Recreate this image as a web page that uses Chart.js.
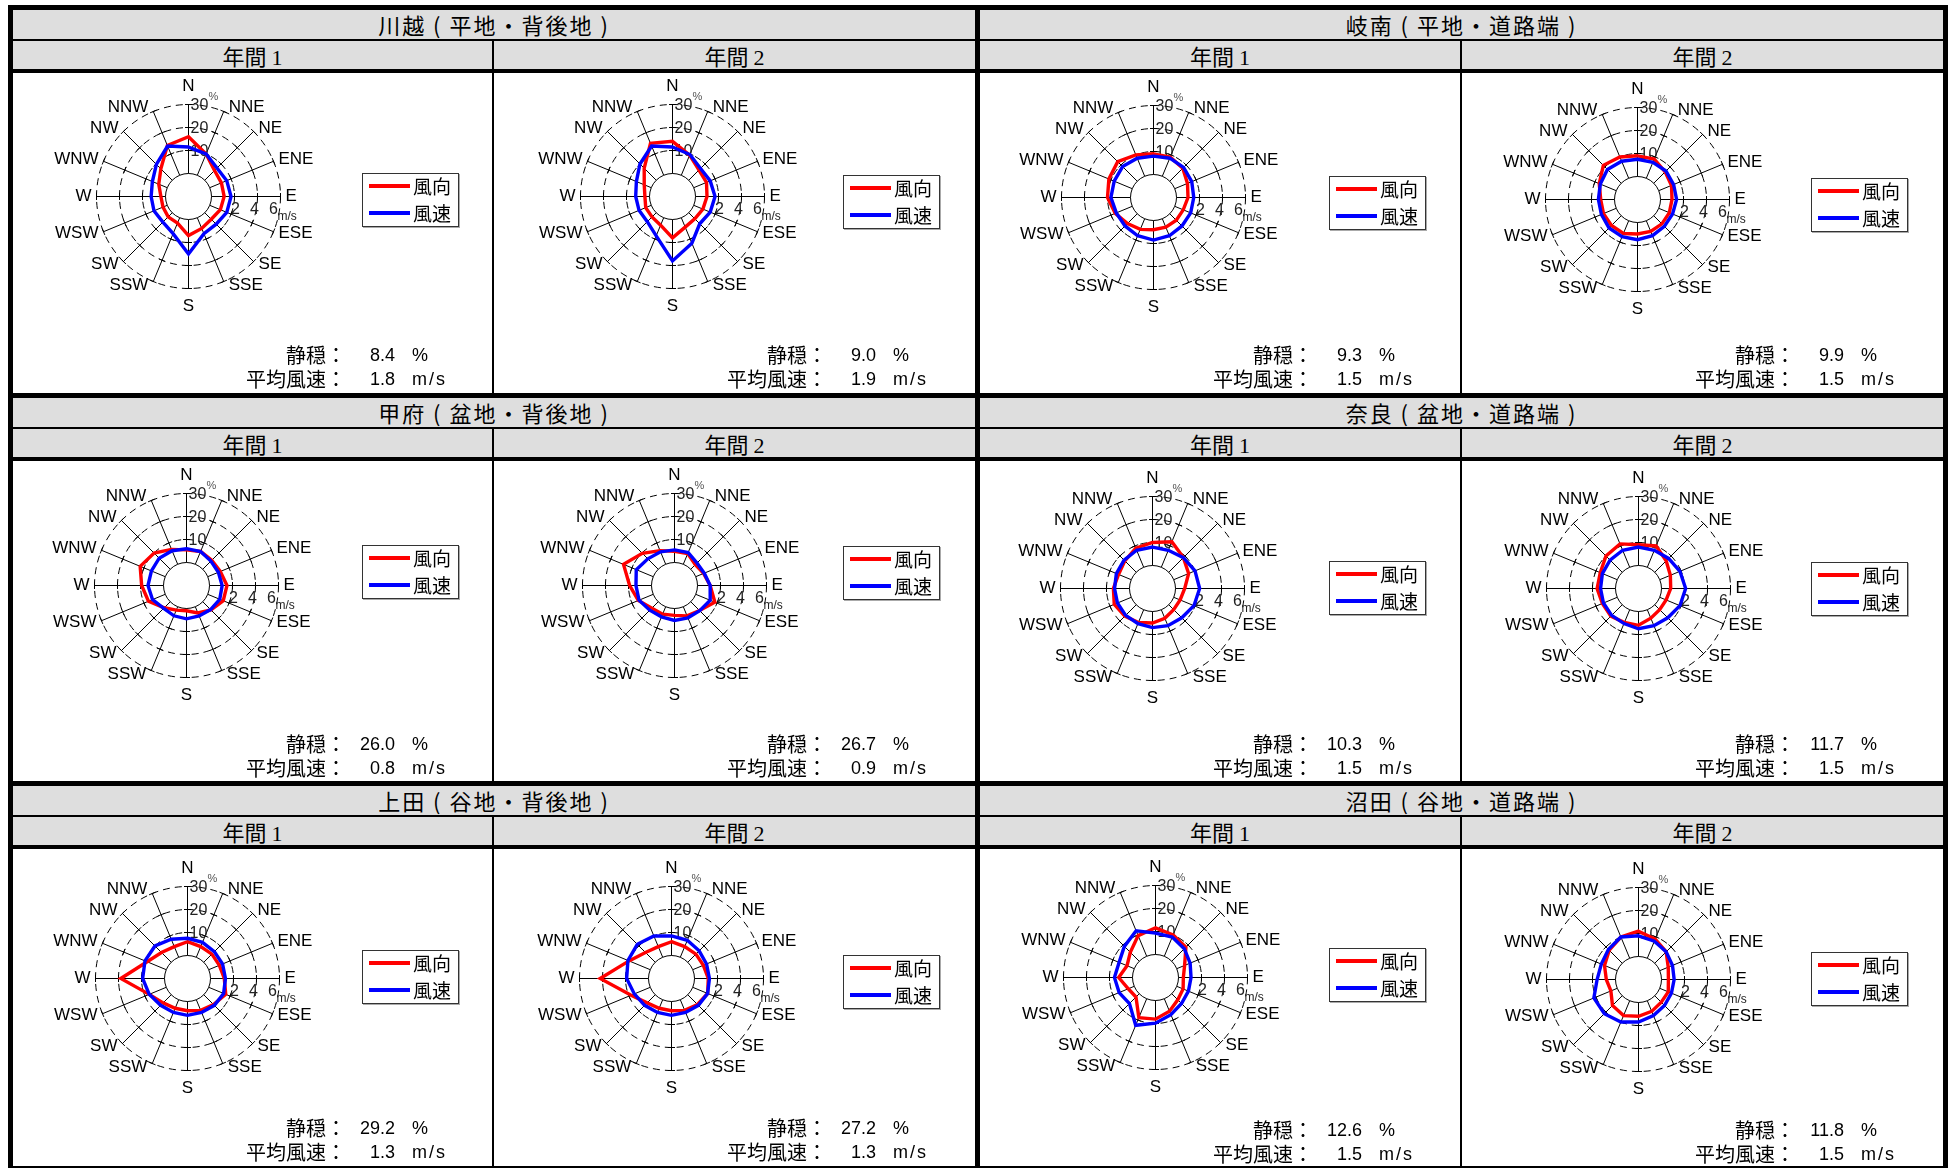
<!DOCTYPE html>
<html lang="ja">
<head>
<meta charset="utf-8">
<script src="https://cdn.jsdelivr.net/npm/chart.js@4.4.1/dist/chart.umd.min.js"></script>
<style>
  body { margin: 0; background: #fff; }
  #sheet { position: relative; width: 1955px; height: 1168px; overflow: hidden; background: #fff;
           font-family: "Noto Sans CJK JP", sans-serif; color: #000; }
  .blk { position: absolute; background: #000; }
  .band { position: absolute; background: #dedede; }
  .title { position: absolute; text-align: center; font-size: 22px; line-height: 29px; letter-spacing: 2px; white-space: nowrap; }
  .sub { position: absolute; text-align: center; font-size: 22px; line-height: 28px; white-space: nowrap; }
  .sub .num { font-family: "Liberation Serif", serif; font-size: 22px; }
  canvas { position: absolute; }
  .legend { position: absolute; width: 95px; height: 52px; border: 1px solid #333; background: #fff;
            box-shadow: 1px 1px 0 #aaa; }
  .legend .ln { position: absolute; left: 6px; width: 41px; height: 4px; }
  .legend .tx { position: absolute; left: 50px; font-size: 19px; line-height: 22px; }
  .stat { position: absolute; font-size: 20px; line-height: 22px; white-space: nowrap; }
  .val { position: absolute; font-family: "Liberation Sans", Arial, sans-serif; font-size: 18px; line-height: 22px; white-space: nowrap; }
</style>
</head>
<body>
<div id="sheet"></div>
<script>
// 16 compass directions, clockwise from north
const directions = ["N", "NNE", "NE", "ENE", "E", "ESE", "SE", "SSE", "S", "SSW", "SW", "WSW", "W", "WNW", "NW", "NNW"];
const sites = ["川越 ( 平地・背後地 )", "岐南 ( 平地・道路端 )", "甲府 ( 盆地・背後地 )",
               "奈良 ( 盆地・道路端 )", "上田 ( 谷地・背後地 )", "沼田 ( 谷地・道路端 )"];
const periods = ["年間", "年間"];
const periodNo = ["1", "2"];
const seriesNames = ["風向", "風速"];
const ringValues = [10, 20, 30];      // % rings
const speedTicks = ["2", "4", "6"];   // m/s on the same rings

// direction frequency (%) and mean wind speed (m/s) per direction
const freqKawagoe1 = [16, 10, 6, 5.5, 5.5, 5, 4, 5, 7, 2.5, 2.5, 2, 2, 4, 7, 14];
const spdKawagoe1  = [2.3, 2.0, 1.5, 1.6, 1.7, 1.6, 1.4, 1.5, 3.0, 1.5, 1.15, 1.25, 1.25, 1.4, 1.95, 2.75];
const freqKawagoe2 = [14, 9.5, 6.3, 6, 5, 4.3, 3.7, 4.4, 8, 3.5, 2.6, 2.6, 2, 3.3, 7.4, 15];
const spdKawagoe2  = [2.3, 1.95, 1.45, 1.55, 1.7, 1.55, 1.35, 2.4, 3.6, 1.7, 1.1, 1.15, 1.2, 1.4, 2.0, 2.75];
const freqGinan1 = [9, 9, 8, 6, 5, 4, 4, 4, 4, 5, 6, 8, 10, 11, 12, 10];
const spdGinan1  = [1.6, 1.7, 1.7, 1.6, 1.5, 1.5, 1.5, 1.6, 1.7, 1.6, 1.5, 1.5, 1.7, 1.7, 1.8, 1.7];
const freqGinan2 = [9, 9, 7, 6, 5, 5, 5, 5, 5, 6, 6, 6, 6, 8, 11, 10];
const spdGinan2  = [1.5, 1.5, 1.5, 1.4, 1.4, 1.3, 1.3, 1.4, 1.5, 1.5, 1.5, 1.4, 1.4, 1.5, 1.7, 1.6];
const freqKofu1 = [5.5, 6, 5.5, 5.9, 7.6, 7.3, 5, 2.9, 1, 1.6, 3.7, 7.9, 9.5, 11.8, 9.9, 7];
const spdKofu1  = [1.2, 1.2, 1.0, 1.0, 1.1, 1.13, 0.96, 0.87, 0.9, 0.85, 0.8, 1.2, 1.35, 1.3, 1.36, 1.27];
const freqKofu2 = [4.9, 5, 2.8, 3.7, 5.5, 9, 5.4, 4.3, 3, 3.5, 3.9, 7, 9.5, 14, 9.8, 6.4];
const spdKofu2  = [1.1, 1.1, 0.77, 0.8, 1.1, 1.36, 1.1, 1.04, 1.04, 0.95, 1.04, 1.34, 1.35, 1.6, 1.28, 1.17];
const freqNara1 = [10, 12, 9, 7, 4, 3, 3, 4, 5, 6, 7, 8, 7, 6, 7, 9];
const spdNara1  = [1.6, 1.6, 1.8, 2.0, 2.1, 1.9, 1.6, 1.5, 1.4, 1.3, 1.3, 1.3, 1.3, 1.4, 1.5, 1.6];
const freqNara2 = [9, 10, 7, 5, 4, 3, 3, 4, 6, 6, 7, 7, 8, 8, 10, 11];
const spdNara2  = [1.6, 1.6, 1.7, 1.9, 2.1, 1.9, 1.6, 1.5, 1.5, 1.3, 1.3, 1.3, 1.3, 1.4, 1.5, 1.6];
const freqUeda1 = [6, 5, 5, 5, 6, 8, 6, 5, 4, 4, 5, 8, 19, 9, 6, 5];
const spdUeda1  = [1.5, 1.4, 1.3, 1.3, 1.3, 1.4, 1.3, 1.2, 1.2, 1.2, 1.3, 1.6, 1.9, 2.0, 2.0, 1.7];
const freqUeda2 = [6, 5, 5, 5, 6, 7, 6, 5, 4, 4, 5, 9, 21, 10, 6, 5];
const spdUeda2  = [1.7, 1.6, 1.4, 1.3, 1.3, 1.4, 1.3, 1.2, 1.2, 1.2, 1.3, 1.5, 1.9, 2.1, 2.2, 2.0];
const freqNumata1 = [11.6, 10, 8.7, 3.7, 2.1, 3, 3.7, 5.9, 8.1, 8.9, 2, 2.8, 6, 3.4, 5.5, 9.7];
const spdNumata1  = [1.86, 1.8, 1.54, 1.26, 1.09, 1.1, 1.2, 1.5, 1.97, 2.5, 1.2, 1.42, 1.57, 1.43, 1.83, 2.4];
const freqNumata2 = [11, 9, 7, 4, 3, 4, 4, 5, 6, 7, 6, 3, 4, 6, 8, 10];
const spdNumata2  = [1.8, 1.6, 1.4, 1.2, 1.1, 1.1, 1.2, 1.4, 1.7, 2.0, 2.2, 2.2, 1.6, 1.5, 1.7, 2.0];

// calm ratio (%) and mean wind speed (m/s), row by row
const calmPct   = ["8.4", "9.0", "9.3", "9.9", "26.0", "26.7", "10.3", "11.7", "29.2", "27.2", "12.6", "11.8"];
const meanSpeed = ["1.8", "1.9", "1.5", "1.5", "0.8", "0.9", "1.5", "1.5", "1.3", "1.3", "1.5", "1.5"];

const freqs  = [freqKawagoe1, freqKawagoe2, freqGinan1, freqGinan2, freqKofu1, freqKofu2,
                freqNara1, freqNara2, freqUeda1, freqUeda2, freqNumata1, freqNumata2];
const speeds = [spdKawagoe1, spdKawagoe2, spdGinan1, spdGinan2, spdKofu1, spdKofu2,
                spdNara1, spdNara2, spdUeda1, spdUeda2, spdNumata1, spdNumata2];

// 6 m/s sits on the 30 % ring
const SPEED_TO_RING = 5;
const RADIUS = 92;

// page geometry
const COL_LEFT = [13, 494, 980, 1462];
const COL_W = [479, 481, 480, 481];
const ROW_TOP = [5, 393, 781];
const ROW_BOTTOM = [393, 781, 1166];
const HEAD_H = 68;
const roseCenter = [[175.5, 123.5], [178.5, 123.5], [173.5, 124.5], [175.5, 126.5],
                    [173.5, 124.5], [180.5, 124.5], [172.5, 127.5], [176.5, 127.5],
                    [174.5, 129.5], [177.5, 129.5], [175.5, 128.5], [176.5, 130.5]];
const legendTop = [100, 102, 103, 105, 84, 85, 100, 101, 101, 106, 99, 103];
const statTop = [271, 271, 271, 271, 272, 272, 272, 272, 268, 268, 270, 270];

const sheet = document.getElementById("sheet");
function box(cls, x, y, w, h) {
  const d = document.createElement("div");
  d.className = cls;
  Object.assign(d.style, { left: x + "px", top: y + "px", width: w + "px", height: h + "px" });
  sheet.appendChild(d);
  return d;
}

// header bands, rules and borders
ROW_TOP.forEach((y0, r) => {
  box("band", 8, y0, 1940, HEAD_H);
  [0, 1].forEach(h => {
    const x = h === 0 ? 13 : 980, w = h === 0 ? 962 : 963;
    const t = box("title", x, y0 + 5, w, 29);
    t.textContent = sites[r * 2 + h];
  });
  box("blk", 8, y0, 1940, 5);
  box("blk", 8, y0 + 34, 1940, 2);
  box("blk", 8, y0 + 64, 1940, 4);
  box("blk", 492, y0 + 36, 2, ROW_BOTTOM[r] - y0 - 36);
  box("blk", 1460, y0 + 36, 2, ROW_BOTTOM[r] - y0 - 36);
  COL_LEFT.forEach((x, c) => {
    const s = box("sub", x, y0 + 36, COL_W[c], 28);
    s.innerHTML = periods[c % 2] + ' <span class="num">' + periodNo[c % 2] + "</span>";
  });
});
box("blk", 8, 5, 5, 1163);
box("blk", 975, 5, 5, 1163);
box("blk", 1943, 5, 5, 1163);
box("blk", 8, 1166, 1940, 2);

// rings, spokes and labels of the rose, drawn under the data lines
const roseFrame = {
  id: "roseFrame",
  beforeDatasetsDraw(chart) {
    const s = chart.scales.r, ctx = chart.ctx;
    const cx = s.xCenter, cy = s.yCenter;
    const d = v => s.getDistanceFromCenterForValue(v);
    ctx.save();
    ctx.strokeStyle = "#000";
    ctx.lineWidth = 1;
    ctx.beginPath();
    ctx.arc(cx, cy, d(0), 0, Math.PI * 2);
    ctx.stroke();
    ctx.setLineDash([7, 5]);
    ringValues.forEach(v => {
      ctx.beginPath();
      ctx.arc(cx, cy, d(v), 0, Math.PI * 2);
      ctx.stroke();
    });
    ctx.setLineDash([]);
    directions.forEach((_, i) => {
      const a = s.getPointPosition(i, d(0)), b = s.getPointPosition(i, d(30));
      ctx.beginPath();
      ctx.moveTo(a.x, a.y);
      ctx.lineTo(b.x, b.y);
      ctx.stroke();
      ringValues.forEach(v => {
        const p = s.getPointPosition(i, d(v));
        const nx = -Math.sin(p.angle), ny = Math.cos(p.angle);
        ctx.beginPath();
        ctx.moveTo(p.x - nx * 3.5, p.y - ny * 3.5);
        ctx.lineTo(p.x + nx * 3.5, p.y + ny * 3.5);
        ctx.stroke();
      });
    });

    // compass labels
    ctx.fillStyle = "#000";
    ctx.font = '17px "Liberation Sans", Arial, sans-serif';
    ctx.textBaseline = "middle";
    directions.forEach((lab, i) => {
      const p = s.getPointPosition(i, d(30));
      const ux = Math.cos(p.angle), uy = Math.sin(p.angle);
      if (Math.abs(ux) < 0.01) {
        ctx.textAlign = "center";
        ctx.fillText(lab, p.x, p.y + (uy < 0 ? -18 : 18));
      } else {
        ctx.textAlign = ux > 0 ? "left" : "right";
        ctx.fillText(lab, p.x + (ux > 0 ? 5 : -5), p.y + uy * 4);
      }
    });

    // % ticks up the north spoke, m/s ticks along the east spoke
    ctx.font = '16px "Liberation Sans", Arial, sans-serif';
    ctx.fillStyle = "#222";
    ctx.textAlign = "left";
    ringValues.forEach(v => ctx.fillText(String(v), cx + 2, cy - d(v) + 1));
    ctx.font = '11px "Liberation Sans", Arial, sans-serif';
    ctx.fillStyle = "#555";
    ctx.fillText("%", cx + 20, cy - d(30) - 8);
    ctx.font = '16px "Liberation Sans", Arial, sans-serif';
    ctx.fillStyle = "#222";
    ctx.textAlign = "center";
    const shift = [1, -3, -7];
    speedTicks.forEach((t, k) => ctx.fillText(t, cx + d(ringValues[k]) + shift[k], cy + 13));
    ctx.textAlign = "left";
    ctx.font = '12px "Liberation Sans", Arial, sans-serif';
    ctx.fillText("m/s", cx + d(30) - 3, cy + 20);
    ctx.restore();
  }
};

for (let p = 0; p < 12; p++) {
  const row = Math.floor(p / 4), col = p % 4;
  const bx = COL_LEFT[col], by = ROW_TOP[row] + HEAD_H;
  const bw = COL_W[col], bh = ROW_BOTTOM[row] - by;
  const cv = document.createElement("canvas");
  cv.width = bw; cv.height = bh;
  cv.style.left = bx + "px"; cv.style.top = by + "px";
  sheet.appendChild(cv);
  const [cx, cy] = roseCenter[p];

  new Chart(cv.getContext("2d"), {
    type: "radar",
    data: {
      labels: directions,
      datasets: [
        { label: seriesNames[0], data: freqs[p], borderColor: "#ff0000", borderWidth: 3.4,
          pointRadius: 0, fill: false, order: 2 },
        { label: seriesNames[1], data: speeds[p].map(v => v * SPEED_TO_RING), borderColor: "#0000ff",
          borderWidth: 3.4, pointRadius: 0, fill: false, order: 1 }
      ]
    },
    options: {
      responsive: false,
      animation: false,
      events: [],
      elements: { line: { tension: 0, borderJoinStyle: "miter" } },
      plugins: { legend: { display: false }, tooltip: { enabled: false } },
      scales: {
        r: {
          min: -10, max: 30,
          ticks: { display: false, stepSize: 10 },
          grid: { display: false },
          angleLines: { display: false },
          pointLabels: { display: false },
          afterFit(scale) {
            scale.xCenter = cx;
            scale.yCenter = cy;
            scale.drawingArea = RADIUS;
          }
        }
      }
    },
    plugins: [roseFrame]
  });

  // legend box
  const lg = box("legend", bx + 349, by + legendTop[p], 95, 52);
  lg.innerHTML =
    '<div class="ln" style="top:10px;background:#ff0000"></div><div class="tx" style="top:1px">' + seriesNames[0] + "</div>" +
    '<div class="ln" style="top:37px;background:#0000ff"></div><div class="tx" style="top:28px">' + seriesNames[1] + "</div>";

  // calm and mean speed
  const st = statTop[p];
  const l1 = box("stat", bx + 233, by + st, 100, 22); l1.style.textAlign = "right"; l1.textContent = "静穏：";
  const l2 = box("stat", bx + 183, by + st + 24, 150, 22); l2.style.textAlign = "right"; l2.textContent = "平均風速：";
  const v1 = box("val", bx + 332, by + st, 50, 22); v1.style.textAlign = "right"; v1.textContent = calmPct[p];
  const v2 = box("val", bx + 332, by + st + 24, 50, 22); v2.style.textAlign = "right"; v2.textContent = meanSpeed[p];
  const u1 = box("val", bx + 399, by + st, 30, 22); u1.textContent = "%";
  const u2 = box("val", bx + 399, by + st + 24, 50, 22); u2.style.letterSpacing = "2px"; u2.textContent = "m/s";
}
</script>
</body>
</html>
